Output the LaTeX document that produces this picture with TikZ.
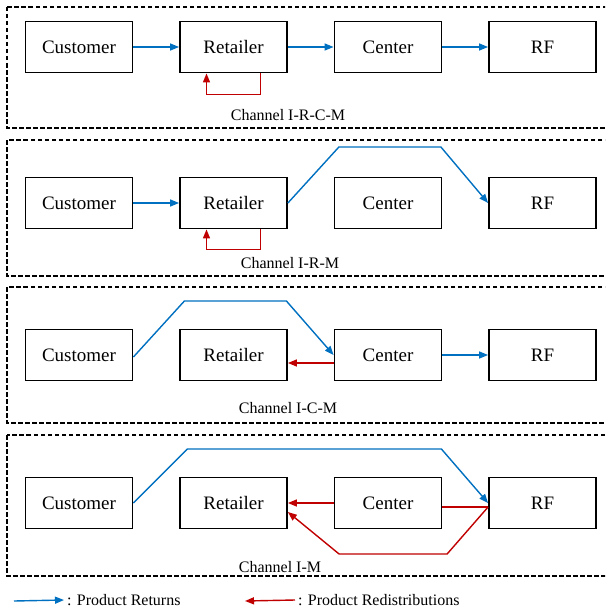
\documentclass[tikz,border=0pt]{standalone}
\usepackage{fontspec}
\setmainfont{Liberation Serif}
\usetikzlibrary{arrows.meta, positioning, calc}
\definecolor{retblue}{RGB}{0,112,192}
\definecolor{redisred}{RGB}{192,0,0}
\tikzstyle{entity} = [rectangle, minimum width=107pt, minimum height=51pt, text centered, draw=black, line width=1.8pt, font=\fontsize{19}{22}\selectfont]
\tikzstyle{panel} = [draw=black, line width=1.2pt, dash pattern=on 4.5pt off 2.5pt]
\tikzstyle{ret} = [draw=retblue, line width=1.4pt, -{Triangle[length=9pt,width=7pt]}]
\tikzstyle{redis} = [draw=redisred, line width=1.4pt, -{Triangle[length=9pt,width=7pt]}]
\tikzstyle{chan} = [font=\fontsize{16}{19}\selectfont]

\begin{document}
\begin{tikzpicture}[x=1pt, y=-1pt, node distance=154.5pt]
\clip (0,0) rectangle (605,610);

% Riquadri dei canali
\draw [panel] (7,7) rectangle (620,128);
\draw [panel] (7,140) rectangle (620,276);
\draw [panel] (7,287) rectangle (620,423);
\draw [panel] (7,435) rectangle (620,576);

% Canale I-R-C-M
\node (cus1) [entity] at (79,47) {Customer};
\node (ret1) [entity, right of=cus1] {Retailer};
\node (ctr1) [entity, right of=ret1] {Center};
\node (rf1) [entity, right of=ctr1] {RF};
\node (ch1) [chan] at (288,115) {Channel I-R-C-M};
\draw [ret] (cus1) -- (ret1);
\draw [ret] (ret1) -- (ctr1);
\draw [ret] (ctr1) -- (rf1);
\draw [redis] ([xshift=27pt]ret1.south) -- ++(0,21) -| ([xshift=-27pt]ret1.south);

% Canale I-R-M
\node (cus2) [entity] at (79,203) {Customer};
\node (ret2) [entity, right of=cus2] {Retailer};
\node (ctr2) [entity, right of=ret2] {Center};
\node (rf2) [entity, right of=ctr2] {RF};
\node (ch2) [chan] at (290,263) {Channel I-R-M};
\draw [ret] (cus2) -- (ret2);
\draw [ret] (ret2.east) -- ++(51,-56) -- ++(102,0) -- (rf2.west);
\draw [redis] ([xshift=27pt]ret2.south) -- ++(0,20) -| ([xshift=-27pt]ret2.south);

% Canale I-C-M
\node (cus3) [entity] at (79,355) {Customer};
\node (ret3) [entity, right of=cus3] {Retailer};
\node (ctr3) [entity, right of=ret3] {Center};
\node (rf3) [entity, right of=ctr3] {RF};
\node (ch3) [chan] at (288,408) {Channel I-C-M};
\draw [ret] ([yshift=-2pt]cus3.east) -- ++(51,-56) -- ++(102,0) -- (ctr3.west);
\draw [redis] ([yshift=-8pt]ctr3.west) -- ([yshift=-8pt]ret3.east);
\draw [ret] (ctr3) -- (rf3);

% Canale I-M
\node (cus4) [entity] at (79,503) {Customer};
\node (ret4) [entity, right of=cus4] {Retailer};
\node (ctr4) [entity, right of=ret4] {Center};
\node (rf4) [entity, right of=ctr4] {RF};
\node (ch4) [chan] at (280,567) {Channel I-M};
\draw [ret] (cus4.east) -- ++(54,-54) -- ++(254,0) -- (rf4.west);
\draw [redis] (ctr4) -- (ret4);
\draw [redisred, line width=1.4pt] ([yshift=-4pt]rf4.west) -- ([yshift=-4pt]ctr4.east);
\draw [redis] ([yshift=-4pt]rf4.west) -- ++(-41,47) -- ++(-108,0) -- ([yshift=-9pt]ret4.east);

% Legenda
\coordinate (lgb) at (14,601);
\coordinate (lgr) at (245,601);
\node (lret) [chan, anchor=west, inner sep=3pt] at (64,600) {: Product Returns};
\node (lred) [chan, anchor=west, inner sep=3pt] at (295,600) {: Product Redistributions};
\draw [ret] (lgb) -- (lret.west);
\draw [redis] (lred.west) -- (lgr);

\end{tikzpicture}
\end{document}
